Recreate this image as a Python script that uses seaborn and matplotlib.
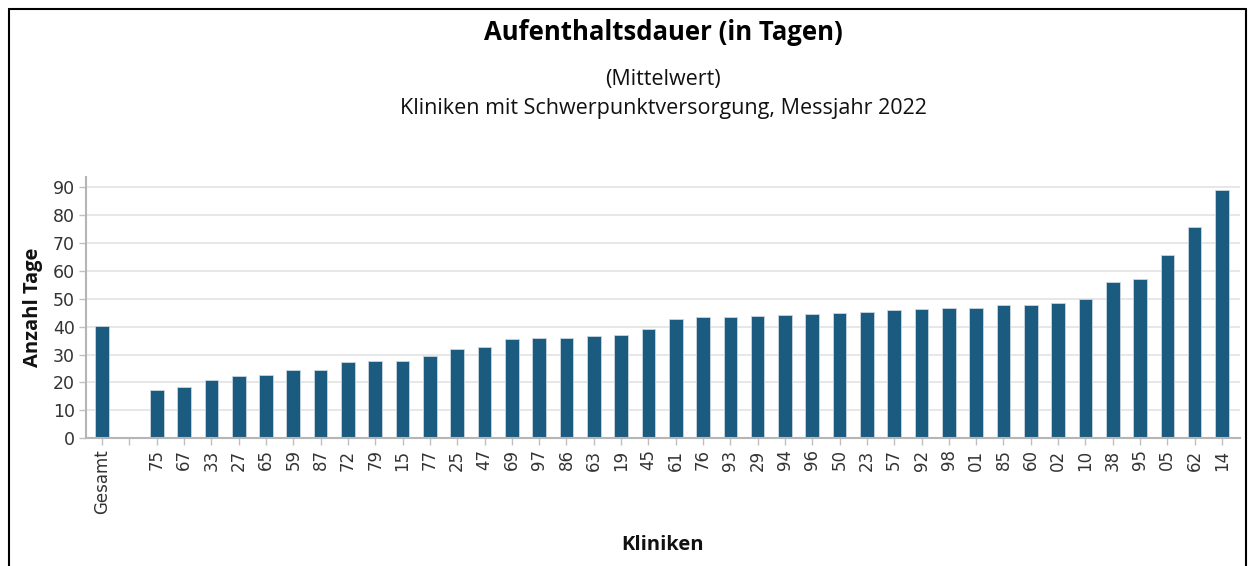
import matplotlib
matplotlib.use("Agg")
import matplotlib.pyplot as plt
from matplotlib.lines import Line2D
import seaborn as sns
import pandas as pd

# Mean length of stay per clinic (days)
kliniken = ["Gesamt", "75", "67", "33", "27", "65", "59", "87", "72", "79", "15",
            "77", "25", "47", "69", "97", "86", "63", "19", "45", "61", "76",
            "93", "29", "94", "96", "50", "23", "57", "92", "98", "01", "85",
            "60", "02", "10", "38", "95", "05", "62", "14"]
tage = [40.3, 17.4, 18.2, 21.0, 22.2, 22.7, 24.3, 24.5, 27.3, 27.6, 27.8,
        29.6, 31.9, 32.8, 35.4, 36.0, 36.0, 36.6, 37.1, 39.2, 42.6, 43.5,
        43.5, 43.9, 44.1, 44.5, 44.9, 45.1, 45.9, 46.3, 46.6, 46.7, 47.6,
        47.9, 48.5, 49.7, 55.8, 57.2, 65.5, 75.5, 88.8]
y_ticks = [0, 10, 20, 30, 40, 50, 60, 70, 80, 90]

# an empty slot separates the overall value from the individual clinics
order = [kliniken[0], " "] + kliniken[1:]
df = pd.DataFrame({"Klinik": kliniken, "Tage": tage})

sns.set_theme(style="white")
plt.rcParams["font.family"] = ["DejaVu Sans"]

fig = plt.figure(figsize=(12.48, 5.66), dpi=100)
ax = fig.add_axes([0.0689, 0.2256, 0.9247, 0.4614])

bar_color = "#1b5b7f"
sns.barplot(data=df, x="Klinik", y="Tage", order=order, color=bar_color,
            saturation=1, width=0.5, edgecolor="#c9d6df", linewidth=0.6, ax=ax)

ax.set_xlim(-0.59, len(order) - 1 + 0.66)
ax.set_ylim(0, 93.5)
ax.set_yticks(y_ticks)
ax.set_yticklabels([str(v) for v in y_ticks], fontsize=12.5, color="#333333")
ax.set_xticks(range(len(order)))
ax.set_xticklabels([("" if k == " " else k) for k in order], rotation=90,
                   fontsize=12, color="#333333")

ax.yaxis.grid(True, color="#e3e3e3", linewidth=1.2)
ax.set_axisbelow(True)
for side in ["top", "right"]:
    ax.spines[side].set_visible(False)
for side in ["left", "bottom"]:
    ax.spines[side].set_color("#b5b5b5")
    ax.spines[side].set_linewidth(1.5)
ax.tick_params(axis="both", which="major", length=5, width=1,
               color="#c0c0c0", direction="out", bottom=True, left=True, pad=3)

ax.set_xlabel("")
ax.set_ylabel("")

title_font = ["Open Sans", "DejaVu Sans"]
xc = 0.0689 + 0.9247 / 2
fig.text(xc, 0.942, "Aufenthaltsdauer (in Tagen)", ha="center", va="center",
         fontsize=18.5, fontweight="bold", family=title_font, color="black")
fig.text(xc, 0.859, "(Mittelwert)", ha="center", va="center",
         fontsize=15.5, family=title_font, color="#111111")
fig.text(xc, 0.809, "Kliniken mit Schwerpunktversorgung, Messjahr 2022",
         ha="center", va="center", fontsize=15.5, family=title_font, color="#111111")
fig.text(0.0264, 0.4576, "Anzahl Tage", rotation=90, ha="center", va="center",
         fontsize=14.5, fontweight="bold", family=title_font, color="#111111")
fig.text(xc, 0.037, "Kliniken", ha="center", va="center",
         fontsize=14.5, fontweight="bold", family=title_font, color="#111111")

# frame around the chart
W, H = 1248, 566
x0, x1, y0 = 8.5 / W, 1246 / W, 1 - 8.5 / H
fig.add_artist(Line2D([x0, x0], [0, y0], color="black", lw=1.5, transform=fig.transFigure))
fig.add_artist(Line2D([x0, x1], [y0, y0], color="black", lw=1.5, transform=fig.transFigure))
fig.add_artist(Line2D([x1, x1], [0, y0], color="black", lw=1.5, transform=fig.transFigure))

fig.savefig("out.png", dpi=100, facecolor="white")
